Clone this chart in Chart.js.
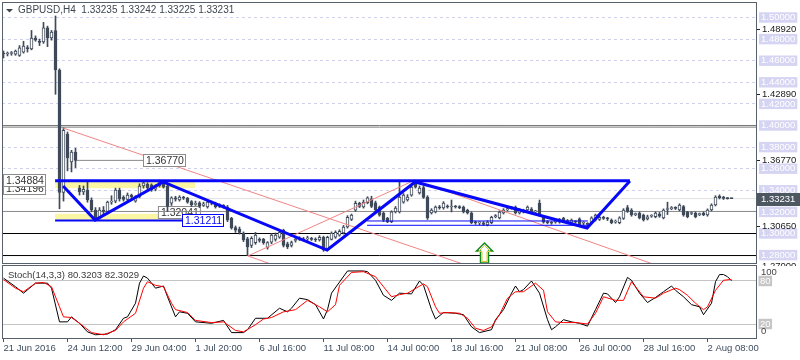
<!DOCTYPE html>
<html>
<head>
<meta charset="utf-8">
<script src="https://cdn.jsdelivr.net/npm/chart.js@4.4.1/dist/chart.umd.min.js"></script>
<style>
  html, body { margin: 0; padding: 0; background: #fff; }
  #wrap { position: relative; width: 800px; height: 360px; overflow: hidden; }
  canvas { position: absolute; left: 0; }
  #priceChart { top: 0; }
  #stochChart { top: 265px; }
</style>
</head>
<body>
<div id="wrap">
  <canvas id="priceChart" width="800" height="266"></canvas>
  <canvas id="stochChart" width="800" height="95"></canvas>
</div>
<script>
// GBPUSD H4 candles, bar 0 = 21 Jun 2016 20:00
const opens = [
  1.4671, 1.4662, 1.4667, 1.4660, 1.4650, 1.4680, 1.4720, 1.4710, 1.4810, 1.4780,
  1.4775, 1.4905, 1.4810, 1.4880, 1.4514, 1.3380, 1.3921, 1.3662, 1.3755, 1.3420,
  1.3384, 1.3403, 1.3310, 1.3218, 1.3145, 1.3218, 1.3205, 1.3290, 1.3300, 1.3403,
  1.3335, 1.3315, 1.3356, 1.3300, 1.3338, 1.3440, 1.3455, 1.3450, 1.3410, 1.3440,
  1.3478, 1.3440, 1.3280, 1.3330, 1.3310, 1.3335, 1.3325, 1.3295, 1.3270, 1.3285,
  1.3260, 1.3245, 1.3285, 1.3280, 1.3250, 1.3260, 1.3245, 1.3140, 1.3055, 1.3040,
  1.3005, 1.2950, 1.2890, 1.2915, 1.2945, 1.2945, 1.2870, 1.2920, 1.2945, 1.2965,
  1.3030, 1.2905, 1.2890, 1.2935, 1.2945, 1.2950, 1.2950, 1.2950, 1.2945, 1.2940,
  1.2965, 1.2850, 1.2945, 1.2965, 1.2985, 1.3005, 1.3060, 1.3130, 1.3215, 1.3280,
  1.3245, 1.3285, 1.3320, 1.3285, 1.3245, 1.3190, 1.3140, 1.3110, 1.3200, 1.3199,
  1.3290, 1.3310, 1.3356, 1.3465, 1.3375, 1.3425, 1.3338, 1.3190, 1.3200, 1.3245,
  1.3236, 1.3250, 1.3245, 1.3250, 1.3248, 1.3245, 1.3215, 1.3190, 1.3105, 1.3098,
  1.3098, 1.3080, 1.3100, 1.3155, 1.3144, 1.3190, 1.3218, 1.3232, 1.3245, 1.3190,
  1.3210, 1.3218, 1.3225, 1.3200, 1.3282, 1.3150, 1.3106, 1.3098, 1.3105, 1.3106,
  1.3140, 1.3120, 1.3100, 1.3110, 1.3135, 1.3095, 1.3090, 1.3100, 1.3125, 1.3130,
  1.3145, 1.3140, 1.3125, 1.3105, 1.3100, 1.3140, 1.3240, 1.3215, 1.3175, 1.3190,
  1.3170, 1.3135, 1.3160, 1.3155, 1.3180, 1.3144, 1.3222, 1.3230, 1.3236, 1.3218,
  1.3250, 1.3195, 1.3185, 1.3190, 1.3175, 1.3190, 1.3171, 1.3218, 1.3264, 1.3345,
  1.3338, 1.3325, 1.33235
];
const highs = [
  1.4690, 1.4681, 1.4685, 1.4699, 1.4740, 1.4780, 1.4740, 1.4880, 1.4830, 1.4800,
  1.4955, 1.4920, 1.4880, 1.5014, 1.4525, 1.3980, 1.3940, 1.3770, 1.3790, 1.3445,
  1.3440, 1.3477, 1.3330, 1.3240, 1.3240, 1.3250, 1.3300, 1.3350, 1.3420, 1.3420,
  1.3350, 1.3375, 1.3365, 1.3350, 1.3460, 1.3488, 1.3470, 1.3460, 1.3450, 1.3486,
  1.3484, 1.3460, 1.3340, 1.3345, 1.3350, 1.3345, 1.3335, 1.3305, 1.3300, 1.3295,
  1.3290, 1.3300, 1.3300, 1.3290, 1.3275, 1.3268, 1.3260, 1.3150, 1.3070, 1.3060,
  1.3015, 1.2965, 1.2970, 1.3010, 1.2960, 1.2955, 1.2925, 1.3000, 1.3005, 1.3030,
  1.3040, 1.2920, 1.2930, 1.2960, 1.2970, 1.2965, 1.2975, 1.2965, 1.2960, 1.2980,
  1.2975, 1.2975, 1.3015, 1.3025, 1.3035, 1.3075, 1.3165, 1.3180, 1.3300, 1.3290,
  1.3310, 1.3340, 1.3345, 1.3300, 1.3255, 1.3200, 1.3150, 1.3210, 1.3250, 1.3477,
  1.3370, 1.3360, 1.3445, 1.3479, 1.3440, 1.3440, 1.3350, 1.3230, 1.3255, 1.3260,
  1.3295, 1.3265, 1.3310, 1.3260, 1.3258, 1.3255, 1.3225, 1.3200, 1.3115, 1.3110,
  1.3110, 1.3118, 1.3160, 1.3175, 1.3210, 1.3230, 1.3245, 1.3250, 1.3255, 1.3230,
  1.3225, 1.3255, 1.3240, 1.3215, 1.3310, 1.3165, 1.3120, 1.3110, 1.3130, 1.3140,
  1.3150, 1.3130, 1.3135, 1.3120, 1.3145, 1.3110, 1.3100, 1.3155, 1.3180, 1.3165,
  1.3160, 1.3150, 1.3135, 1.3125, 1.3155, 1.3230, 1.3260, 1.3230, 1.3190, 1.3200,
  1.3180, 1.3170, 1.3175, 1.3200, 1.3195, 1.3228, 1.3290, 1.3250, 1.3248, 1.3275,
  1.3260, 1.3205, 1.3200, 1.3200, 1.3190, 1.3200, 1.3228, 1.3275, 1.3350, 1.3358,
  1.3345, 1.3332, 1.33242
];
const lows = [
  1.4625, 1.4644, 1.4650, 1.4650, 1.4640, 1.4670, 1.4680, 1.4700, 1.4780, 1.4740,
  1.4760, 1.4730, 1.4790, 1.4289, 1.3229, 1.3300, 1.3580, 1.3570, 1.3610, 1.3356,
  1.3360, 1.3290, 1.3200, 1.3121, 1.3135, 1.3180, 1.3190, 1.3270, 1.3285, 1.3300,
  1.3300, 1.3290, 1.3325, 1.3290, 1.3330, 1.3420, 1.3410, 1.3390, 1.3395, 1.3430,
  1.3420, 1.3204, 1.3260, 1.3300, 1.3300, 1.3315, 1.3280, 1.3250, 1.3260, 1.3240,
  1.3250, 1.3235, 1.3265, 1.3235, 1.3240, 1.3235, 1.3110, 1.3040, 1.3010, 1.2995,
  1.2925, 1.2796, 1.2870, 1.2900, 1.2920, 1.2900, 1.2855, 1.2905, 1.2930, 1.2955,
  1.2875, 1.2860, 1.2875, 1.2920, 1.2935, 1.2930, 1.2935, 1.2935, 1.2925, 1.2930,
  1.2835, 1.2840, 1.2940, 1.2955, 1.2975, 1.2995, 1.3050, 1.3120, 1.3205, 1.3240,
  1.3235, 1.3275, 1.3240, 1.3200, 1.3160, 1.3110, 1.3100, 1.3100, 1.3190, 1.3190,
  1.3280, 1.3300, 1.3345, 1.3420, 1.3365, 1.3325, 1.3130, 1.3180, 1.3190, 1.3225,
  1.3225, 1.3235, 1.3200, 1.3235, 1.3230, 1.3190, 1.3180, 1.3090, 1.3085, 1.3080,
  1.3075, 1.3070, 1.3090, 1.3145, 1.3135, 1.3180, 1.3210, 1.3225, 1.3180, 1.3180,
  1.3190, 1.3210, 1.3185, 1.3190, 1.3160, 1.3095, 1.3090, 1.3085, 1.3095, 1.3095,
  1.3100, 1.3100, 1.3090, 1.3095, 1.3070, 1.3080, 1.3070, 1.3090, 1.3115, 1.3120,
  1.3130, 1.3120, 1.3090, 1.3095, 1.3090, 1.3130, 1.3195, 1.3160, 1.3165, 1.3135,
  1.3115, 1.3125, 1.3150, 1.3145, 1.3150, 1.3135, 1.3175, 1.3220, 1.3222, 1.3210,
  1.3160, 1.3145, 1.3175, 1.3145, 1.3165, 1.3165, 1.3160, 1.3210, 1.3255, 1.3320,
  1.3315, 1.3318, 1.33225
];
const closes = [
  1.4662, 1.4667, 1.4675, 1.4690, 1.4720, 1.4735, 1.4712, 1.4810, 1.4790, 1.4770,
  1.4905, 1.4810, 1.4866, 1.4514, 1.3380, 1.3955, 1.3699, 1.3755, 1.3677, 1.3384,
  1.3410, 1.3310, 1.3218, 1.3140, 1.3218, 1.3205, 1.3290, 1.3300, 1.3403, 1.3320,
  1.3315, 1.3356, 1.3340, 1.3338, 1.3440, 1.3470, 1.3425, 1.3405, 1.3440, 1.3478,
  1.3430, 1.3250, 1.3330, 1.3318, 1.3338, 1.3328, 1.3290, 1.3265, 1.3280, 1.3255,
  1.3275, 1.3290, 1.3280, 1.3245, 1.3260, 1.3250, 1.3125, 1.3051, 1.3030, 1.3010,
  1.2940, 1.2875, 1.2955, 1.2985, 1.2935, 1.2915, 1.2915, 1.2985, 1.2985, 1.3010,
  1.2890, 1.2875, 1.2915, 1.2945, 1.2958, 1.2940, 1.2960, 1.2945, 1.2940, 1.2965,
  1.2850, 1.2965, 1.3005, 1.3010, 1.3020, 1.3060, 1.3150, 1.3170, 1.3280, 1.3250,
  1.3290, 1.3330, 1.3250, 1.3220, 1.3170, 1.3125, 1.3110, 1.3200, 1.3236, 1.3338,
  1.3356, 1.3338, 1.3430, 1.3430, 1.3421, 1.3335, 1.3144, 1.3218, 1.3245, 1.3238,
  1.3282, 1.3245, 1.3250, 1.3245, 1.3240, 1.3199, 1.3190, 1.3100, 1.3098, 1.3100,
  1.3085, 1.3106, 1.3150, 1.3165, 1.3199, 1.3218, 1.3230, 1.3236, 1.3190, 1.3218,
  1.3200, 1.3245, 1.3195, 1.3205, 1.3171, 1.3106, 1.3100, 1.3095, 1.3118, 1.3130,
  1.3110, 1.3110, 1.3125, 1.3105, 1.3079, 1.3098, 1.3085, 1.3144, 1.3171, 1.3150,
  1.3140, 1.3135, 1.3100, 1.3110, 1.3144, 1.3218, 1.3205, 1.3171, 1.3180, 1.3144,
  1.3125, 1.3155, 1.3165, 1.3190, 1.3160, 1.3218, 1.3228, 1.3236, 1.3232, 1.3264,
  1.3171, 1.3155, 1.3190, 1.3155, 1.3180, 1.3171, 1.3218, 1.3264, 1.3338, 1.3329,
  1.3325, 1.3323, 1.33231
];

// Stochastic (14,3,3): main %K and signal %D, [bar index] / value
const kBars = [0,3,5,8,11,12,14,16,17,19,21,23,26,28,30,31,33,34,35,36,38,40,41,43,44,46,48,52,55,57,
  60,61,63,66,69,71,72,74,76,78,80,81,82,86,90,91,93,95,97,98,99,102,104,105,107,108,110,113,115,117,
  119,122,123,125,127,128,129,130,132,134,136,137,138,140,142,144,146,148,150,151,153,154,156,157,159,161,163,165,167,168,
  170,172,174,175,177,178,179,180,181,182];
const kVals = [84,72,63,77,77,70,23,23,30,21,9,5,6,12,28,30,49,77,87,84,70,73,58,30,37,35,23,21,25,8,
  8,12,28,28,42,37,42,56,54,47,27,40,63,94,94,93,81,60,53,58,63,62,80,74,40,27,36,35,33,16,
  8,12,26,40,63,73,65,68,80,63,26,12,16,26,23,21,17,40,63,62,50,58,85,81,63,50,57,65,73,67,
  58,47,44,33,49,79,89,89,86,80.32];
const dBars = [0,3,5,8,10,12,14,15,17,19,22,25,28,30,33,35,36,38,40,42,43,46,48,52,55,58,60,63,65,67,
  70,73,76,79,81,83,84,87,90,93,95,97,99,101,105,106,108,109,111,114,116,118,120,122,124,126,128,130,133,135,
  136,138,140,143,146,148,150,153,155,157,158,160,163,165,168,169,171,173,175,176,178,180,182];
const dVals = [82,70,65,77,78,72,44,30,29,21,8,5,11,23,35,70,79,74,72,49,40,36,25,22,23,11,9,19,27,29,
  37,40,53,44,37,47,74,92,93,86,72,58,61,63,76,72,44,35,36,35,28,14,11,16,33,56,65,65,77,67,
  37,23,22,22,20,35,58,53,53,79,72,58,56,63,70,68,60,49,40,44,67,81,82.30];

// axis labels
const gridLevels = [1.28, 1.30, 1.32, 1.34, 1.36, 1.38, 1.40, 1.42, 1.44, 1.46, 1.48, 1.50];
const markLevels = [1.4892, 1.4289, 1.3677, 1.3065, 1.2700];
const lastPrice = 1.33231;
const stochLevels = [20, 80];
const timeBars = [0, 16, 32, 48, 64, 80, 96, 112, 128, 144, 160, 176];
const timeLabels = ['21 Jun 2016', '24 Jun 12:00', '29 Jun 04:00', '1 Jul 20:00', '6 Jul 16:00', '11 Jul 08:00',
  '14 Jul 00:00', '18 Jul 16:00', '21 Jul 08:00', '26 Jul 00:00', '28 Jul 16:00', '2 Aug 08:00'];

// drawn objects: bar index / price
const patternBars = [14.9, 22.9, 39.9, 80.9, 102.9, 145.9, 156.6];
const patternPrices = [1.3440, 1.3125, 1.3477, 1.2847, 1.3477, 1.3051, 1.3486];
const neckBars = [12.9, 156.6];
const neckPrice = 1.34884;
const baseBars = [12.9, 44.9];
const basePrice = 1.31211;
const supportBars = [90.9, 146.1];
const supportPrices = [1.3116, 1.3076];
const redABars = [14.9, 118], redAPrices = [1.3977, 1.2678];
const redBBars = [102.9, 165], redBPrices = [1.3495, 1.2683];
const redCBars = [61.1, 102.9], redCPrices = [1.2792, 1.3495];
const redDBars = [61.1, 67], redDPrices = [1.2792, 1.2715];
const closeLineBars = [17.9, 34.9];
const closeLinePrice = 1.3677;
const blackLevels = [1.3000, 1.2796];
const grayLevels = [1.4000, 1.3985];
const midLevel = 1.32041;
const zoneFrom = [12.9, 12.9], zoneTo = [47.9, 44.9];
const zoneTop = [1.34884, 1.3182], zoneBottom = [1.34196, 1.31211];
const tagText = ['1.34196', '1.34884', '1.36770', '1.31211'];
const tagBar = [-0.125, -0.125, 34.9, 44.6];
const tagPrice = [1.34196, 1.34884, 1.3677, 1.31211];
const arrowBar = 120, arrowTop = 1.2912, arrowBottom = 1.2727;

const FONT = '"Liberation Sans", Arial, sans-serif';
const CANDLE = '#3f4a58';
const BLUE = '#0808f8';
const RED = '#f08585';
const X_MIN = -0.375, X_MAX = 188.375;

Chart.defaults.font.family = FONT;
Chart.defaults.font.size = 9.5;

function pts(xs, ys) { return xs.map((x, k) => ({ x: x, y: ys[k] })); }
function flat(xs, p) { return xs.map(x => ({ x: x, y: p })); }
function level(p) { return [{ x: X_MIN - 2, y: p }, { x: X_MAX + 2, y: p }]; }
function lineSet(data, color, width, order) {
  return { type: 'line', data: data, borderColor: color, borderWidth: width, pointRadius: 0, fill: false, tension: 0, order: order };
}
// no extra room for the end tick labels
function noPad(s) { s.paddingTop = 0; s.paddingBottom = 0; }

function drawTag(ctx, text, left, cy, color, border) {
  ctx.font = '10.5px ' + FONT;
  const w = Math.round(ctx.measureText(text).width) + 5;
  const top = Math.round(cy - 6.5);
  ctx.fillStyle = '#ffffff';
  ctx.fillRect(left, top, w, 13);
  ctx.strokeStyle = border;
  ctx.lineWidth = 1;
  ctx.strokeRect(left + 0.5, top + 0.5, w - 1, 12);
  ctx.fillStyle = color;
  ctx.textAlign = 'left';
  ctx.textBaseline = 'middle';
  ctx.fillText(text, left + 3, top + 7);
}

function arrowPath(ctx, cx, ty, by, hw, sw) {
  ctx.beginPath();
  ctx.moveTo(cx, ty);
  ctx.lineTo(cx + hw, ty + hw);
  ctx.lineTo(cx + sw, ty + hw);
  ctx.lineTo(cx + sw, by);
  ctx.lineTo(cx - sw, by);
  ctx.lineTo(cx - sw, ty + hw);
  ctx.lineTo(cx - hw, ty + hw);
  ctx.closePath();
}

const priceDecor = {
  id: 'priceDecor',
  beforeDatasetsDraw(chart) {
    const { ctx, scales: { x, y } } = chart;
    ctx.save();
    ctx.fillStyle = '#fbf6a4';
    zoneFrom.forEach((f, k) => {
      const x0 = x.getPixelForValue(f), x1 = x.getPixelForValue(zoneTo[k]);
      const y0 = y.getPixelForValue(zoneTop[k]), y1 = y.getPixelForValue(zoneBottom[k]);
      ctx.fillRect(x0, y0, x1 - x0, y1 - y0);
    });
    drawTag(ctx, '1.32041', x.getPixelForValue(38.6), y.getPixelForValue(midLevel) + 1, '#333333', '#8c8c8c');
    ctx.restore();
  },
  afterDraw(chart) {
    const { ctx, chartArea: a, scales: { x, y } } = chart;
    ctx.save();

    // tags on the chart
    tagText.forEach((t, k) => {
      const isBlue = t === '1.31211';
      drawTag(ctx, t, Math.round(x.getPixelForValue(tagBar[k])), y.getPixelForValue(tagPrice[k]),
        isBlue ? BLUE : '#333333', isBlue ? BLUE : '#8c8c8c');
    });

    // up arrow
    const cx = Math.round(x.getPixelForValue(arrowBar)) + 0.5;
    const ty = y.getPixelForValue(arrowTop), by = y.getPixelForValue(arrowBottom);
    arrowPath(ctx, cx, ty, by, 8, 4);
    ctx.fillStyle = '#ffffff';
    ctx.fill();
    ctx.strokeStyle = '#138a1e';
    ctx.lineWidth = 1.5;
    ctx.stroke();
    arrowPath(ctx, cx, ty + 2.5, by - 1.5, 6, 2.5);
    ctx.strokeStyle = '#e0c43a';
    ctx.lineWidth = 1;
    ctx.stroke();

    // panel border
    ctx.strokeStyle = '#56616c';
    ctx.lineWidth = 1;
    ctx.strokeRect(a.left + 0.5, a.top + 0.5, a.right - a.left - 1, a.bottom - a.top - 1);

    // level marks on the price axis
    ctx.font = '9.5px ' + FONT;
    ctx.textAlign = 'left';
    ctx.textBaseline = 'middle';
    markLevels.forEach(p => {
      const py = Math.round(y.getPixelForValue(p)) + 0.5;
      ctx.strokeStyle = '#222';
      ctx.beginPath();
      ctx.moveTo(a.right, py);
      ctx.lineTo(a.right + 3, py);
      ctx.stroke();
      ctx.fillStyle = '#1a1a1a';
      ctx.fillText(p.toFixed(5), a.right + 5, py);
    });
    const ly = Math.round(y.getPixelForValue(lastPrice));
    ctx.fillStyle = '#4d5762';
    ctx.fillRect(a.right, ly - 6, 800 - a.right, 13);
    ctx.fillStyle = '#ffffff';
    ctx.fillText(lastPrice.toFixed(5), a.right + 4, ly + 0.5);

    // header
    ctx.fillStyle = '#3d4650';
    ctx.beginPath();
    ctx.moveTo(6, 9);
    ctx.lineTo(13, 9);
    ctx.lineTo(9.5, 12.5);
    ctx.closePath();
    ctx.fill();
    ctx.font = '10px ' + FONT;
    ctx.fillText('GBPUSD,H4  1.33235 1.33242 1.33225 1.33231', 18, 10.5);
    ctx.restore();
  }
};

new Chart(document.getElementById('priceChart'), {
  type: 'bar',
  data: {
    datasets: [
      lineSet(pts(patternBars, patternPrices), BLUE, 3, 0),
      lineSet(flat(neckBars, neckPrice), BLUE, 3, 0),
      lineSet(flat(baseBars, basePrice), BLUE, 2, 0),
      lineSet(flat(supportBars, supportPrices[0]), BLUE, 1, 0),
      lineSet(flat(supportBars, supportPrices[1]), BLUE, 1, 0),
      lineSet(pts(redABars, redAPrices), RED, 1, 1),
      lineSet(pts(redBBars, redBPrices), RED, 1, 1),
      lineSet(pts(redCBars, redCPrices), RED, 1, 1),
      lineSet(pts(redDBars, redDPrices), RED, 1, 1),
      {
        type: 'bar',
        data: opens.map((o, i) => ({ x: i, y: [o, closes[i]] })),
        backgroundColor: c => closes[c.dataIndex] >= opens[c.dataIndex] ? '#ffffff' : CANDLE,
        borderColor: CANDLE,
        borderWidth: 1,
        borderSkipped: false,
        barThickness: 3,
        minBarLength: 1,
        grouped: false,
        order: 2
      },
      {
        type: 'bar',
        data: lows.map((l, i) => ({ x: i, y: [l, highs[i]] })),
        backgroundColor: CANDLE,
        borderWidth: 0,
        barThickness: 1,
        grouped: false,
        order: 3
      },
      lineSet(flat(closeLineBars, closeLinePrice), '#8a8a8a', 1, 4),
      lineSet(level(midLevel), '#8a8a8a', 1, 4),
      lineSet(level(lastPrice), '#e2e2e2', 1, 5),
      lineSet(level(blackLevels[0]), '#000000', 1, 4),
      lineSet(level(blackLevels[1]), '#000000', 1, 4),
      lineSet(level(grayLevels[0]), '#7a7a7a', 1, 4),
      lineSet(level(grayLevels[1]), '#7a7a7a', 1, 4)
    ]
  },
  options: {
    responsive: false,
    animation: false,
    events: [],
    layout: { autoPadding: false, padding: { left: 2, top: 2, right: 0, bottom: 2 } },
    plugins: { legend: { display: false }, tooltip: { enabled: false } },
    scales: {
      x: { type: 'linear', min: X_MIN, max: X_MAX, offset: false, display: false, grid: { offset: false } },
      y: {
        type: 'linear',
        position: 'right',
        min: 1.27176,
        max: 1.51435,
        afterFit: s => { s.width = 43; noPad(s); },
        afterBuildTicks: s => { s.ticks = gridLevels.map(v => ({ value: v })); },
        grid: { color: '#cfcfee', drawTicks: false },
        border: { display: false, dash: [3, 3] },
        ticks: {
          autoSkip: false,
          padding: 4,
          color: '#ffffff',
          font: { size: 9.5, lineHeight: 1.1 },
          showLabelBackdrop: true,
          backdropColor: '#d5d5f3',
          backdropPadding: { x: 2, y: 0 },
          callback: v => v.toFixed(5)
        }
      }
    }
  },
  plugins: [priceDecor]
});

const stochDecor = {
  id: 'stochDecor',
  afterDraw(chart) {
    const { ctx, chartArea: a, scales: { y } } = chart;
    ctx.save();
    ctx.strokeStyle = '#56616c';
    ctx.lineWidth = 1;
    ctx.strokeRect(a.left + 0.5, a.top - 0.5, a.right - a.left - 1, a.bottom - a.top);
    ctx.font = '9.5px ' + FONT;
    ctx.textAlign = 'left';
    ctx.textBaseline = 'middle';
    ctx.fillStyle = '#3a3a3a';
    ctx.fillText('Stoch(14,3,3) 80.3203 82.3029', 8, 10);
    ctx.fillStyle = '#444444';
    ctx.fillText('100', a.right + 4, y.getPixelForValue(100) + 5.5);
    ctx.fillText('0', a.right + 4, y.getPixelForValue(0) - 6.5);
    ctx.restore();
  }
};

new Chart(document.getElementById('stochChart'), {
  type: 'line',
  data: {
    datasets: [
      { data: pts(dBars, dVals), borderColor: '#ff0000', borderWidth: 1, pointRadius: 0, fill: false, tension: 0 },
      { data: pts(kBars, kVals), borderColor: '#000000', borderWidth: 1, pointRadius: 0, fill: false, tension: 0 }
    ]
  },
  options: {
    responsive: false,
    animation: false,
    events: [],
    layout: { autoPadding: false, padding: { left: 2, top: 1, right: 0, bottom: 0 } },
    plugins: { legend: { display: false }, tooltip: { enabled: false } },
    scales: {
      x: {
        type: 'linear',
        min: X_MIN,
        max: X_MAX,
        offset: false,
        afterBuildTicks: s => { s.ticks = timeBars.map(v => ({ value: v })); },
        afterFit: s => { s.height = 21; s.paddingLeft = 0; s.paddingRight = 0; },
        grid: { drawOnChartArea: false, drawTicks: true, tickLength: 3, tickColor: '#4a5560' },
        border: { display: false },
        ticks: {
          autoSkip: false,
          maxRotation: 0,
          align: 'start',
          padding: 1,
          color: '#3e4c5e',
          callback: (v, k) => timeLabels[k]
        }
      },
      y: {
        type: 'linear',
        position: 'right',
        min: -0.93,
        max: 100.93,
        afterFit: s => { s.width = 43; noPad(s); },
        afterBuildTicks: s => { s.ticks = stochLevels.map(v => ({ value: v })); },
        grid: { color: '#c4c4c4', drawTicks: false },
        border: { display: false },
        ticks: {
          autoSkip: false,
          padding: 3,
          color: '#ffffff',
          font: { size: 9.5, lineHeight: 1.1 },
          showLabelBackdrop: true,
          backdropColor: '#c6c6c6',
          backdropPadding: { x: 1.5, y: 0 }
        }
      }
    }
  },
  plugins: [stochDecor]
});
</script>
</body>
</html>
